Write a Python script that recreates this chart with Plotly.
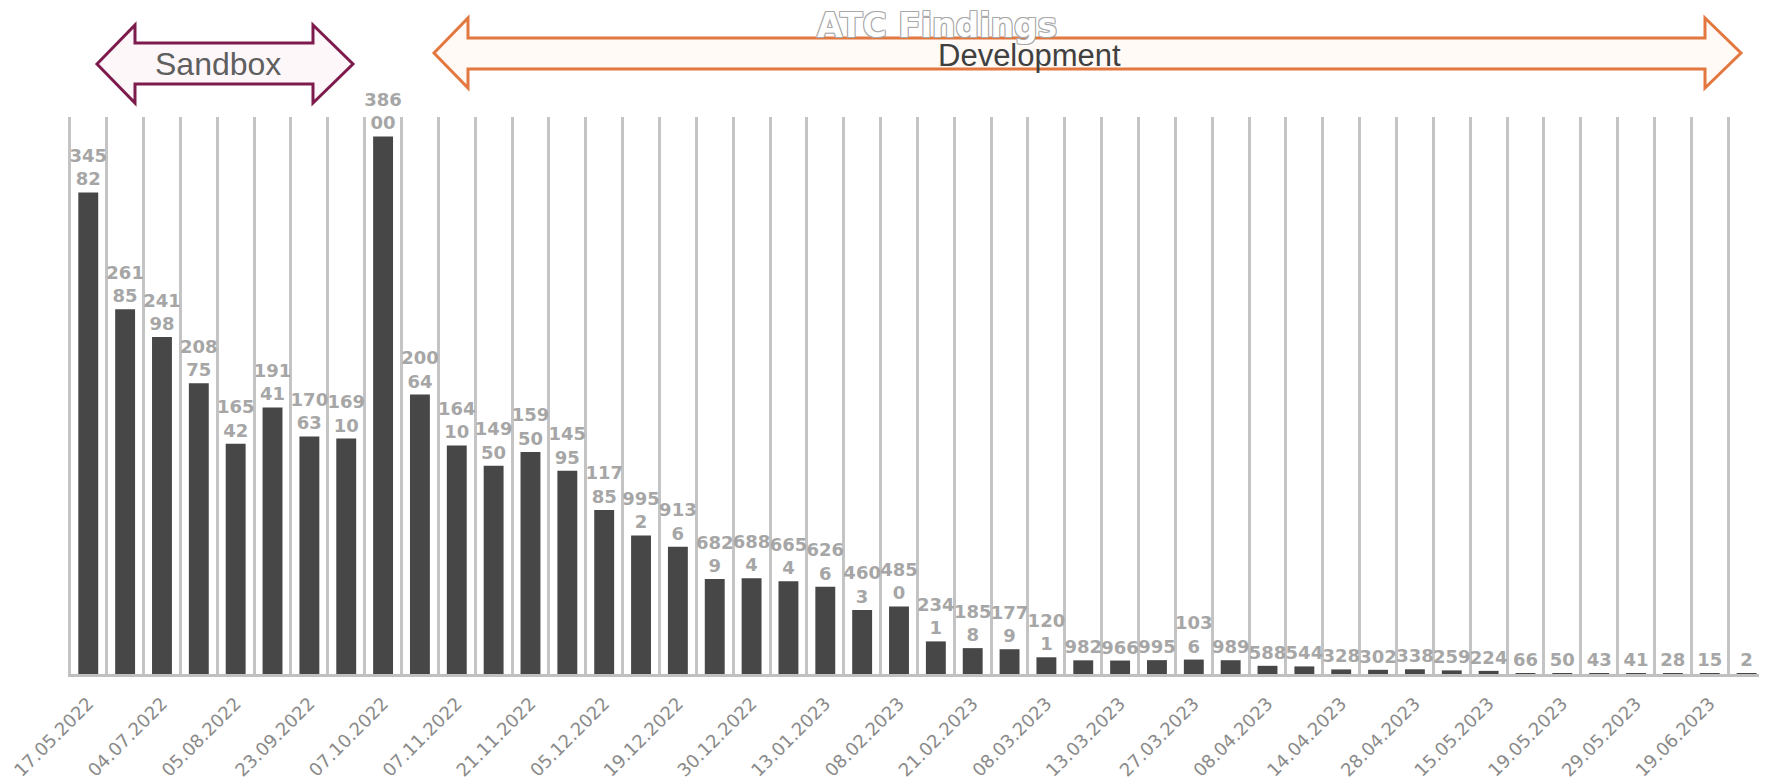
import plotly.graph_objects as go

# ---------------- data ----------------
findings = [34582, 26185, 24198, 20875, 16542, 19141, 17063, 16910, 38600, 20064,
            16410, 14950, 15950, 14595, 11785, 9952, 9136, 6829, 6884, 6654,
            6266, 4603, 4850, 2341, 1858, 1779, 1201, 982, 966, 995,
            1036, 989, 588, 544, 328, 302, 338, 259, 224, 66,
            50, 43, 41, 28, 15, 2]

tick_labels = ["17.05.2022", "04.07.2022", "05.08.2022", "23.09.2022", "07.10.2022",
               "07.11.2022", "21.11.2022", "05.12.2022", "19.12.2022", "30.12.2022",
               "13.01.2023", "08.02.2023", "21.02.2023", "08.03.2023", "13.03.2023",
               "27.03.2023", "08.04.2023", "14.04.2023", "28.04.2023", "15.05.2023",
               "19.05.2023", "29.05.2023", "19.06.2023"]

title_text = "ATC Findings"
phase_labels = ["Sandbox", "Development"]

# ---------------- layout constants ----------------
OFF = 8                      # browser default body margin
W, H = 1767 - OFF, 784 - OFF
# window-pixel targets: plot left 68, right 1765, top 117, baseline 674
M_L, M_R = 68 - OFF, 2
M_T = 117 - OFF
M_B = H - (674 - OFF)

x_pos = list(range(len(findings)))
tick_pos = x_pos[::2]

def wrap(v):
    s = str(v)
    return s if len(s) <= 3 else s[:3] + "<br>" + s[3:]

fig = go.Figure()
fig.add_trace(go.Bar(
    x=x_pos, y=findings,
    marker=dict(color="#474747", line=dict(width=0)),
    text=[wrap(v) for v in findings],
    textposition="outside",
    textangle=0,
    constraintext="none",
    cliponaxis=False,
    textfont=dict(family="DejaVu Sans", size=18, color="#a6a6a6", weight="bold"),
    hoverinfo="skip",
))

plot_w = W - M_L - M_R
plot_h = H - M_T - M_B

def px2paper(wx, wy):
    # window pixel -> paper coords
    fx, fy = wx - OFF, wy - OFF
    return (fx - M_L) / plot_w, (H - M_B - fy) / plot_h

def lr_arrow(xl, xli, xri, xr, yc, yht, yhb, yst, ysb):
    pts = [(xl, yc), (xli, yht), (xli, yst), (xri, yst), (xri, yht), (xr, yc),
           (xri, yhb), (xri, ysb), (xli, ysb), (xli, yhb)]
    p = [px2paper(a, b) for a, b in pts]
    return "M " + " L ".join(f"{a:.5f},{b:.5f}" for a, b in p) + " Z"

shapes = [
    dict(type="path", xref="paper", yref="paper",
         path=lr_arrow(97, 135, 313, 353, 64, 25, 103, 43, 84),
         line=dict(color="#7d1b4c", width=3), fillcolor="#fdf7fa", layer="above"),
    dict(type="path", xref="paper", yref="paper",
         path=lr_arrow(434, 468, 1705, 1741, 53, 18, 88, 38, 69),
         line=dict(color="#e2773f", width=3), fillcolor="#fffaf6", layer="above"),
]

annotations = []
sx, sy = px2paper(218, 64)
annotations.append(dict(x=sx, y=sy, xref="paper", yref="paper", text=phase_labels[0],
                        showarrow=False, xanchor="center", yanchor="middle",
                        font=dict(family="Liberation Sans", size=32, color="#5f5f5f")))
dx, dy = px2paper(1029, 55)
annotations.append(dict(x=dx, y=dy, xref="paper", yref="paper", text=phase_labels[1],
                        showarrow=False, xanchor="center", yanchor="middle",
                        font=dict(family="Liberation Sans", size=31, color="#404040")))
tx, ty = px2paper(937, 25)
annotations.append(dict(x=tx, y=ty, xref="paper", yref="paper", text=title_text,
                        showarrow=False, xanchor="center", yanchor="middle",
                        font=dict(family="DejaVu Sans", size=33, color="#ffffff", weight="bold",
                                  shadow="-1px -1px 0 #a8a8a8, 1px -1px 0 #a8a8a8, -1px 1px 0 #a8a8a8, 1px 1px 0 #a8a8a8")))

fig.update_layout(
    width=W, height=H,
    margin=dict(l=M_L, r=M_R, t=M_T, b=M_B, pad=0),
    paper_bgcolor="white", plot_bgcolor="white",
    showlegend=False,
    bargap=0.46,
    shapes=shapes,
    annotations=annotations,
    xaxis=dict(
        range=[-0.55, len(findings) - 0.5],
        tickmode="array", tickvals=tick_pos, ticktext=tick_labels,
        tickangle=-45, ticks="", showgrid=False, zeroline=False,
        showline=True, linecolor="#c0c0c0", linewidth=3,
        tickfont=dict(family="DejaVu Sans", size=18, color="#8a8a8a"),
        ticklabelstandoff=9,
        minor=dict(tickmode="linear", tick0=0.5, dtick=1, showgrid=True,
                   gridcolor="#c4c4c4", gridwidth=3, ticks=""),
        fixedrange=True,
    ),
    yaxis=dict(range=[0, 40000], showticklabels=False, showgrid=False,
               zeroline=False, showline=False, ticks="", fixedrange=True),
)

fig.write_html("out.html")
